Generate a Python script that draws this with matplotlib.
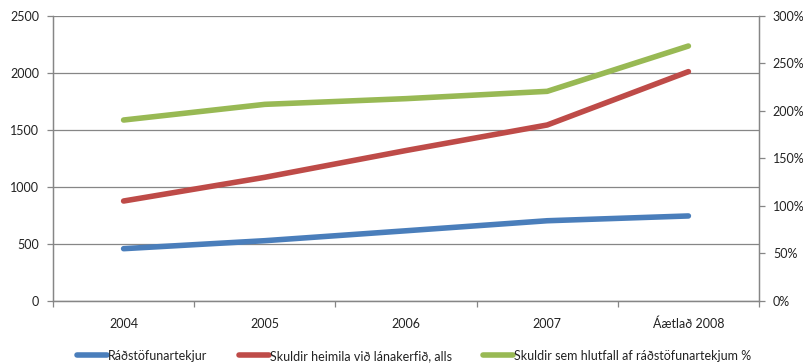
import matplotlib
matplotlib.use("Agg")
import matplotlib.pyplot as plt
from matplotlib.ticker import FixedLocator, FuncFormatter

plt.rcParams['font.family'] = ['Lato', 'DejaVu Sans']

categories = ["2004", "2005", "2006", "2007", "Áætlað 2008"]
radstofunartekjur = [459, 529, 616, 704, 746]
skuldir_heimila = [877, 1085, 1320, 1544, 2012]
skuldir_hlutfall = [190.5, 207, 213, 220.7, 268.4]

series_names = ["Ráðstöfunartekjur",
                "Skuldir heimila við lánakerfið, alls",
                "Skuldir sem hlutfall af ráðstöfunartekjum %"]
colors = ["#4a7ebb", "#be4b48", "#98b954"]
grey = "#868686"
fs = 9

fig = plt.figure(figsize=(8.04, 3.64), dpi=100)
ax = fig.add_axes([53 / 804, 63 / 364, 706 / 804, 285 / 364])
ax2 = ax.twinx()

x = list(range(len(categories)))
lw = 4.0
l1, = ax.plot(x, radstofunartekjur, color=colors[0], lw=lw, solid_capstyle="round",
              solid_joinstyle="round", zorder=3)
l2, = ax.plot(x, skuldir_heimila, color=colors[1], lw=lw, solid_capstyle="round",
              solid_joinstyle="round", zorder=3)
l3, = ax2.plot(x, skuldir_hlutfall, color=colors[2], lw=lw, solid_capstyle="round",
               solid_joinstyle="round", zorder=3)

ax.set_xlim(-0.5, len(categories) - 0.5)
ax.set_ylim(0, 2500)
ax2.set_ylim(0, 300)
ax.set_yticks(range(0, 2501, 500))
ax2.set_yticks(range(0, 301, 50))
ax2.yaxis.set_major_formatter(FuncFormatter(lambda v, p: f"{int(v)}%"))

ax.grid(axis="y", color=grey, lw=0.9)
ax.set_axisbelow(True)

# category boundaries as ticks, labels at centres
ax.xaxis.set_major_locator(FixedLocator([i - 0.5 for i in range(len(categories) + 1)]))
ax.xaxis.set_major_formatter(FuncFormatter(lambda v, p: ""))
ax.xaxis.set_minor_locator(FixedLocator(x))
ax.set_xticklabels(categories, minor=True)
ax.tick_params(axis="x", which="major", direction="out", length=4, color=grey, width=0.9)
ax.tick_params(axis="x", which="minor", length=0, pad=12, labelsize=fs, labelcolor="#222222")

ax.tick_params(axis="y", direction="out", length=4, color=grey, width=0.9,
               labelsize=fs, labelcolor="#222222", pad=6)
ax2.tick_params(axis="y", direction="out", length=4, color=grey, width=0.9,
                labelsize=fs, labelcolor="#222222", pad=6)

for a in (ax, ax2):
    a.spines["top"].set_visible(False)
    for s in ("left", "right", "bottom"):
        a.spines[s].set_color(grey)
        a.spines[s].set_linewidth(0.9)

leg = fig.legend([l1, l2, l3], series_names, loc="lower center", ncol=3,
                 bbox_to_anchor=(0.515, -0.025), frameon=False, fontsize=fs,
                 handlelength=2.4, handletextpad=0.1, columnspacing=2.5)
for t in leg.get_texts():
    t.set_color("#222222")

fig.savefig("out.png", dpi=100)
